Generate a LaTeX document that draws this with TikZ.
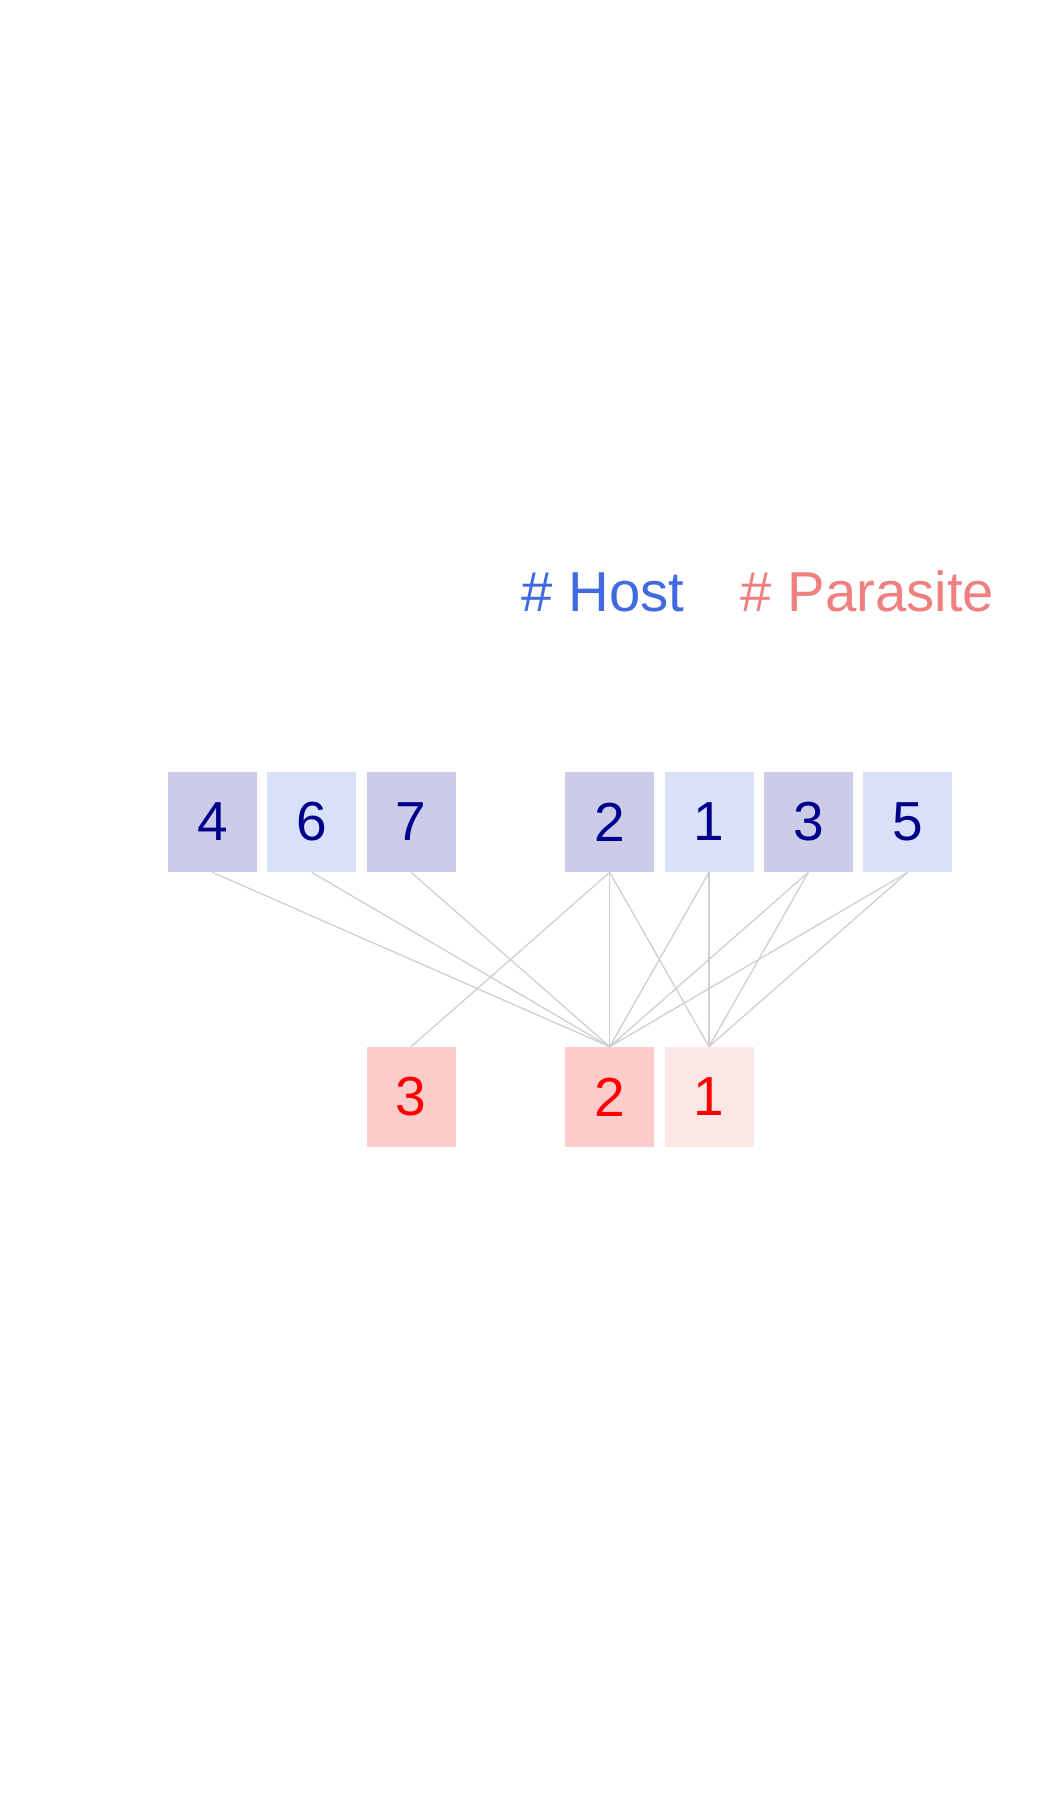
\documentclass[tikz,border=0pt]{standalone}
\usepackage{fontspec}
\setmainfont{Liberation Sans}
\usepackage{xcolor}

\begin{document}
\begin{tikzpicture}[x=1pt, y=-1pt, line width=1.3pt,
    hostbox/.style={rectangle, inner sep=0pt, minimum width=89pt, minimum height=99.4pt,
      text=hnum, font=\fontsize{55}{60}\selectfont},
    parbox/.style={hostbox, text=pnum},
    web/.style={draw=gray!38}]
    \colorlet{hnum}{blue!55!black}\colorlet{pnum}{red}
    \definecolor{hdark}{RGB}{204,204,232}\definecolor{hlight}{RGB}{217,225,249}
    \definecolor{pdark}{RGB}{255,204,204}\definecolor{plight}{RGB}{252,230,230}
    \definecolor{hleg}{RGB}{65,105,225}\definecolor{pleg}{RGB}{240,128,128}
    \useasboundingbox (0,0) rectangle (1050,1800);
    % legend
    \node[anchor=base west, inner sep=0pt, text=hleg, font=\fontsize{56.3}{60}\selectfont] (legH) at (521,611.7) {\# Host};
    \node[anchor=base west, inner sep=0pt, text=pleg, font=\fontsize{56.3}{60}\selectfont] (legP) at (740,611.7) {\# Parasite};
    % hosts
    \node[hostbox, fill=hdark]  (h4) at (212.5,822) {4};
    \node[hostbox, fill=hlight] (h6) at (311.8,822) {6};
    \node[hostbox, fill=hdark]  (h7) at (411.1,822) {7};
    \node[hostbox, fill=hdark]  (h2) at (609.7,822) {2};
    \node[hostbox, fill=hlight] (h1) at (709.0,822) {1};
    \node[hostbox, fill=hdark]  (h3) at (808.3,822) {3};
    \node[hostbox, fill=hlight] (h5) at (907.6,822) {5};
    % parasites
    \node[parbox, fill=pdark]  (p3) at (411.1,1097) {3};
    \node[parbox, fill=pdark]  (p2) at (609.7,1097) {2};
    \node[parbox, fill=plight] (p1) at (709.0,1097) {1};
    % interactions
    \foreach \h/\p in {4/2, 6/2, 7/2, 2/3, 2/2, 2/1, 1/2, 1/1, 3/2, 3/1, 5/2, 5/1}
      \draw[web] (h\h.south) -- (p\p.north);
  \end{tikzpicture}
\end{document}
